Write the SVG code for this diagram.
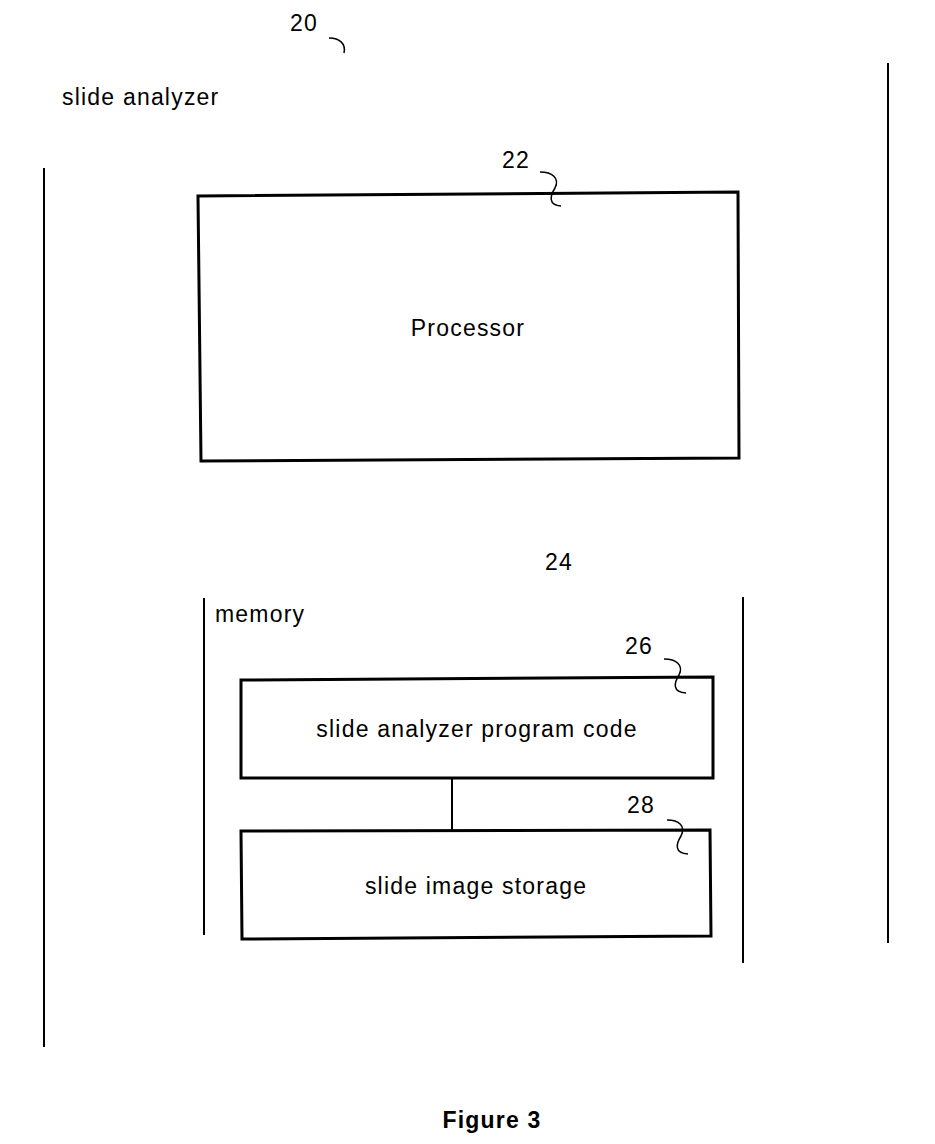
<svg xmlns="http://www.w3.org/2000/svg" width="935" height="1144" viewBox="0 0 935 1144">
<style>
.t{font-family:"Liberation Sans",Arial,sans-serif;font-size:23px;letter-spacing:1.2px;fill:#000}
.b{fill:none;stroke:#000;stroke-width:3}
.l{fill:none;stroke:#000;stroke-width:2}
.s{fill:none;stroke:#000;stroke-width:1.5}
</style>
<rect width="935" height="1144" fill="#fff"/>
<g id="slide-analyzer">
<line class="l" x1="44" y1="168" x2="44" y2="1047"/>
<line class="l" x1="888" y1="63" x2="888" y2="943"/>
<text class="t" x="62" y="105">slide analyzer</text>
<text class="t" x="290" y="31">20</text>
<path class="s" d="M329 38 C340 38 346 44 344 53"/>
</g>
<g id="processor">
<path class="b" d="M198 196 L738 192 L739 458 L201 461 Z"/>
<text class="t" x="468" y="336" text-anchor="middle">Processor</text>
<text class="t" x="502" y="168">22</text>
<path class="s" d="M540 172 C552 172 560 178 555 188 C550 196 548 205 561 206"/>
</g>
<g id="memory">
<line class="l" x1="204" y1="598" x2="204" y2="935"/>
<line class="l" x1="743" y1="597" x2="743" y2="963"/>
<text class="t" x="215" y="622">memory</text>
<text class="t" x="545" y="570">24</text>
</g>
<g id="program-code">
<path class="b" d="M241 680 L713 677 L713 778 L241 778 Z"/>
<text class="t" x="477" y="737" text-anchor="middle">slide analyzer program code</text>
<text class="t" x="625" y="654">26</text>
<path class="s" d="M664 659 C676 659 684 665 679 675 C674 683 672 692 686 693"/>
</g>
<g id="image-storage">
<path class="b" d="M241 831 L710 830 L711 936 L242 939 Z"/>
<text class="t" x="476" y="894" text-anchor="middle">slide image storage</text>
<text class="t" x="627" y="813">28</text>
<path class="s" d="M667 820 C679 820 686 826 681 836 C676 844 674 853 688 854"/>
</g>
<g id="connectors">
<line class="l" x1="452" y1="778" x2="452" y2="832"/>
</g>
<text class="t" x="492" y="1128" text-anchor="middle" font-weight="bold">Figure 3</text>
</svg>
